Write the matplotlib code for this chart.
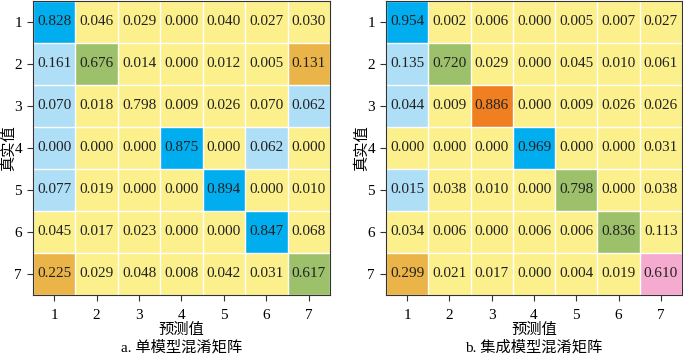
import numpy as np
import matplotlib
matplotlib.use('Agg')
import matplotlib.pyplot as plt
from matplotlib.colors import ListedColormap

plt.rcParams['font.family'] = ['Liberation Serif', 'Noto Sans CJK SC']

classes = ['1', '2', '3', '4', '5', '6', '7']

single_model = [
    [0.828, 0.046, 0.029, 0.000, 0.040, 0.027, 0.030],
    [0.161, 0.676, 0.014, 0.000, 0.012, 0.005, 0.131],
    [0.070, 0.018, 0.798, 0.009, 0.026, 0.070, 0.062],
    [0.000, 0.000, 0.000, 0.875, 0.000, 0.062, 0.000],
    [0.077, 0.019, 0.000, 0.000, 0.894, 0.000, 0.010],
    [0.045, 0.017, 0.023, 0.000, 0.000, 0.847, 0.068],
    [0.225, 0.029, 0.048, 0.008, 0.042, 0.031, 0.617],
]

ensemble_model = [
    [0.954, 0.002, 0.006, 0.000, 0.005, 0.007, 0.027],
    [0.135, 0.720, 0.029, 0.000, 0.045, 0.010, 0.061],
    [0.044, 0.009, 0.886, 0.000, 0.009, 0.026, 0.026],
    [0.000, 0.000, 0.000, 0.969, 0.000, 0.000, 0.031],
    [0.015, 0.038, 0.010, 0.000, 0.798, 0.000, 0.038],
    [0.034, 0.006, 0.000, 0.006, 0.006, 0.836, 0.113],
    [0.299, 0.021, 0.017, 0.000, 0.004, 0.019, 0.610],
]

# colour group of each cell as drawn in the original figure
single_groups = [
    [2, 0, 0, 0, 0, 0, 0],
    [1, 3, 0, 0, 0, 0, 4],
    [1, 0, 0, 0, 0, 0, 1],
    [1, 0, 0, 2, 0, 1, 0],
    [1, 0, 0, 0, 2, 0, 0],
    [0, 0, 0, 0, 0, 2, 0],
    [4, 0, 0, 0, 0, 0, 3],
]

ensemble_groups = [
    [2, 0, 0, 0, 0, 0, 0],
    [1, 3, 0, 0, 0, 0, 0],
    [1, 0, 5, 0, 0, 0, 0],
    [0, 0, 0, 2, 0, 0, 0],
    [1, 0, 0, 0, 3, 0, 0],
    [0, 0, 0, 0, 0, 3, 0],
    [4, 0, 0, 0, 0, 0, 6],
]

palette = ['#fcf08c', '#aedff7', '#00aeef', '#9dc16a', '#ebb449',
           '#f07f21', '#f5abd0']
cmap = ListedColormap(palette)


def draw_matrix(ax, values, groups, caption):
    values = np.array(values)
    groups = np.array(groups)
    n = len(classes)
    ax.imshow(groups, cmap=cmap, vmin=-0.5, vmax=len(palette) - 0.5,
              aspect='auto', interpolation='nearest')
    for i in range(n):
        for j in range(n):
            ax.text(j, i, '{:.3f}'.format(values[i, j]), ha='center',
                    va='center', fontsize=11, color='#222222')
    ax.set_xticks(np.arange(n))
    ax.set_yticks(np.arange(n))
    ax.set_xticklabels(classes)
    ax.set_yticklabels(classes)
    ax.set_xticks(np.arange(n + 1) - 0.5, minor=True)
    ax.set_yticks(np.arange(n + 1) - 0.5, minor=True)
    ax.grid(which='minor', color='white', linewidth=1.0)
    ax.tick_params(which='minor', length=0)
    ax.tick_params(which='major', labelsize=11, length=4, width=0.8,
                   color='#333333', pad=4)
    ax.tick_params(axis='x', which='major', pad=6)
    for spine in ax.spines.values():
        spine.set_color('#333333')
        spine.set_linewidth(0.8)
    ax.set_xlabel('预测值', fontsize=11, labelpad=1)
    ax.set_ylabel('真实值', fontsize=11, labelpad=-1)
    ax.text(0.5, -0.178, caption, transform=ax.transAxes, ha='center',
            va='center', fontsize=11)


fig = plt.figure(figsize=(6.83, 3.54), dpi=100)
ax1 = fig.add_axes([0.0483, 0.1667, 0.4348, 0.8305])
ax2 = fig.add_axes([0.5652, 0.1667, 0.4334, 0.8305])

draw_matrix(ax1, single_model, single_groups, 'a. 单模型混淆矩阵')
draw_matrix(ax2, ensemble_model, ensemble_groups, 'b. 集成模型混淆矩阵')

fig.savefig('out.png', dpi=100)
